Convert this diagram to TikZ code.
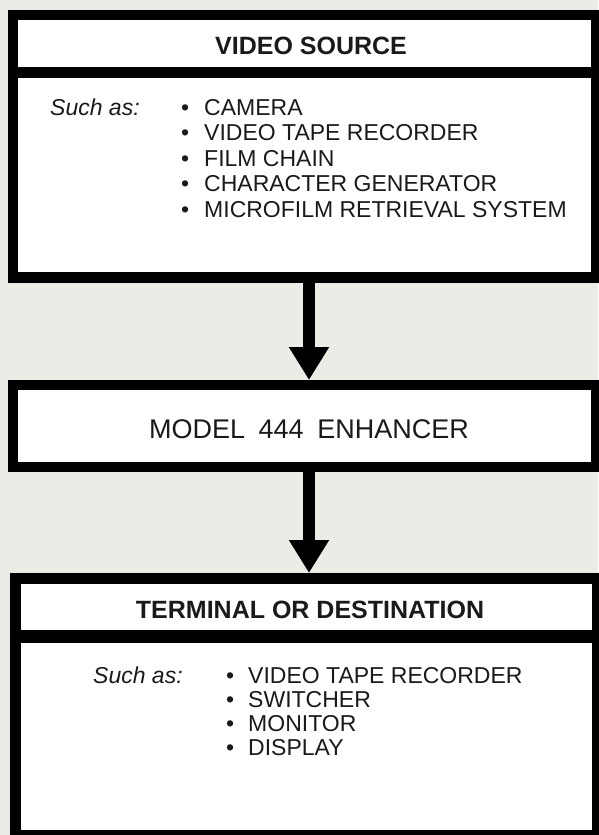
\documentclass[tikz,border=0pt]{standalone}
\usepackage{fontspec}
\setmainfont{Liberation Sans}
\usetikzlibrary{arrows.meta}
\definecolor{paper}{RGB}{236,236,230}
\definecolor{ink}{RGB}{26,26,26}
\begin{document}
\begin{tikzpicture}[x=1pt,y=-1pt,
  frame/.style={draw=black,fill=white,rectangle,inner sep=0pt},
  hdr/.style={anchor=base,font=\fontsize{25}{28}\selectfont\bfseries,text=ink,inner sep=0pt},
  body/.style={anchor=base west,font=\fontsize{23}{26}\selectfont,text=ink,inner sep=0pt},
  such/.style={anchor=base west,font=\fontsize{23}{26}\selectfont\itshape,text=ink,inner sep=0pt},
  flow/.style={draw=black,line width=12pt,-{Triangle[width=38pt,length=33pt]}},
  divider/.style={draw=black}]
\useasboundingbox (0,0) rectangle (598,835);
\fill[paper] (0,0) rectangle (598,835);

% boxes
\node[frame,line width=10.5pt,minimum width=583pt,minimum height=262.5pt] (src) at (304.5,146.25) {};
\node[frame,line width=10pt,minimum width=583pt,minimum height=82pt] (enh) at (304.5,426) {};
\node[frame,line width=11pt,minimum width=582pt,minimum height=257pt] (dst) at (306.5,707) {};

% dividers
\draw[divider,line width=11pt] (src.west |- 0,72.5) -- (src.east |- 0,72.5);
\draw[divider,line width=13pt] (dst.west |- 0,636.5) -- (dst.east |- 0,636.5);

% arrows
\coordinate (ax) at (309,0);
\draw[flow] (src.south -| ax) -- (enh.north -| ax);
\draw[flow] (enh.south -| ax) -- (dst.north -| ax);

% top box texts
\node[hdr] (srct) at (311,54) {VIDEO SOURCE};
\node[such] (srcs) at (50,115) {Such as:};
\node[body] (b1) at (181,115) {\textbullet};
\node[body] (i1) at (204,115) {CAMERA};
\node[body] (b2) at (181,140.5) {\textbullet};
\node[body] (i2) at (204,140.5) {VIDEO TAPE RECORDER};
\node[body] (b3) at (181,166) {\textbullet};
\node[body] (i3) at (204,166) {FILM CHAIN};
\node[body] (b4) at (181,191.5) {\textbullet};
\node[body] (i4) at (204,191.5) {CHARACTER GENERATOR};
\node[body] (b5) at (181,217) {\textbullet};
\node[body] (i5) at (204,217) {MICROFILM RETRIEVAL SYSTEM};

% middle box text
\node[anchor=base,font=\fontsize{27}{30}\selectfont,text=ink,inner sep=0pt] (enht) at (309,438) {MODEL\hspace{0.5em}444\hspace{0.5em}ENHANCER};

% bottom box texts
\node[hdr] (dstt) at (310,618) {TERMINAL OR DESTINATION};
\node[such] (dsts) at (93,683) {Such as:};
\node[body] (c1) at (226,683) {\textbullet};
\node[body] (j1) at (248,683) {VIDEO TAPE RECORDER};
\node[body] (c2) at (226,707.5) {\textbullet};
\node[body] (j2) at (248,707.5) {SWITCHER};
\node[body] (c3) at (226,731.5) {\textbullet};
\node[body] (j3) at (248,731.5) {MONITOR};
\node[body] (c4) at (226,755.5) {\textbullet};
\node[body] (j4) at (248,755.5) {DISPLAY};
\end{tikzpicture}
\end{document}
